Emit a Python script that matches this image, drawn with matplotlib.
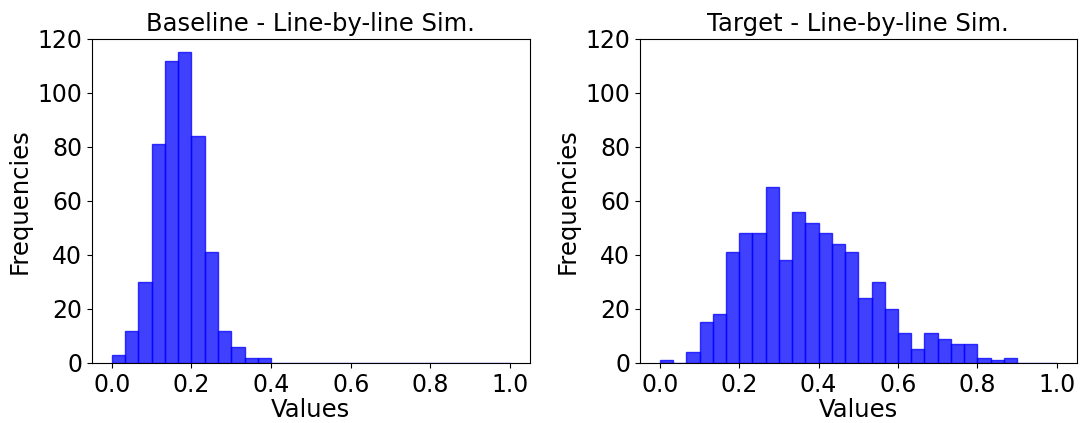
import matplotlib.pyplot as plt
import numpy as np

# bin edges: 30 equal bins over [0, 1]
bin_edges = np.linspace(0, 1, 31)
bin_centers = (bin_edges[:-1] + bin_edges[1:]) / 2

baseline_counts = [3, 12, 30, 81, 112, 115, 84, 41, 12, 6, 2, 2,
                   0, 0, 0, 0, 0, 0, 0, 0, 0, 0, 0, 0, 0, 0, 0, 0, 0, 0]
target_counts = [1, 0, 4, 15, 18, 41, 48, 48, 65, 38, 56, 52, 48, 44, 41,
                 24, 30, 20, 11, 5, 11, 9, 7, 7, 2, 1, 2, 0, 0, 0]

titles = ['Baseline - Line-by-line Sim.', 'Target - Line-by-line Sim.']

fig = plt.figure(figsize=(10.81, 4.23), dpi=100)
ax1 = fig.add_axes([0.0851, 0.142, 0.405, 0.766])
ax2 = fig.add_axes([0.592, 0.142, 0.404, 0.766])

for ax, counts, title in zip([ax1, ax2], [baseline_counts, target_counts], titles):
    ax.hist(bin_centers, bins=bin_edges, weights=counts,
            color='blue', alpha=0.75, edgecolor='blue')
    ax.set_ylim(0, 120)
    ax.set_xticks([0.0, 0.2, 0.4, 0.6, 0.8, 1.0])
    ax.tick_params(labelsize=17)
    ax.set_xlabel('Values', fontsize=17.5, labelpad=1)
    ax.set_ylabel('Frequencies', fontsize=17.5)
    ax.set_title(title, fontsize=17.5)

plt.savefig('out.png', dpi=100)
plt.close()
